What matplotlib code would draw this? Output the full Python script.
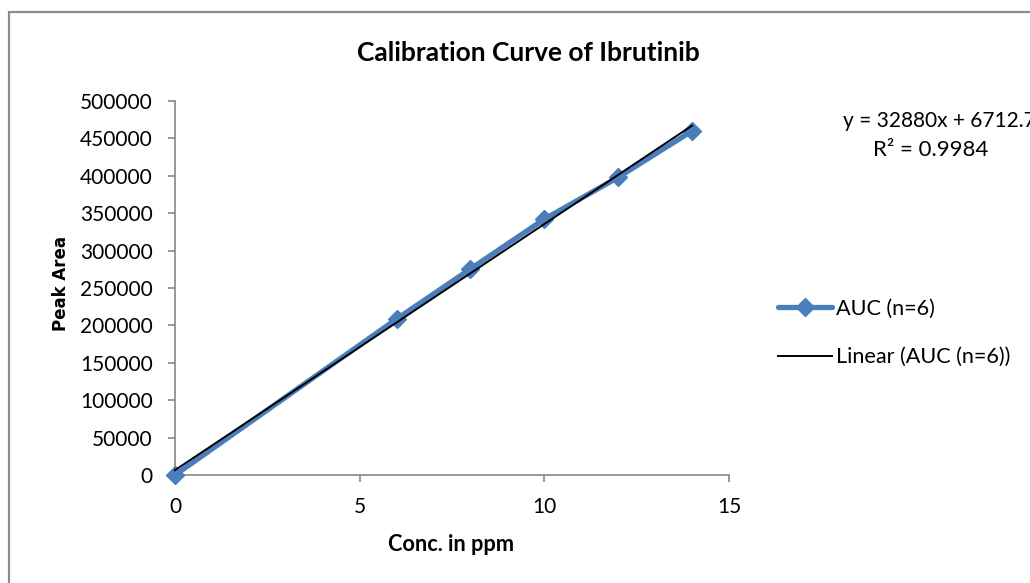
import numpy as np
import matplotlib
matplotlib.use("Agg")
import matplotlib.pyplot as plt
from matplotlib.patches import Rectangle

# Data
conc_ppm = [0, 6, 8, 10, 12, 14]
peak_area = [0, 208500, 275500, 342000, 398000, 460000]
x_ticks = [0, 5, 10, 15]
y_ticks = [0, 50000, 100000, 150000, 200000, 250000, 300000, 350000, 400000, 450000, 500000]
series_label = "AUC (n=6)"
trend_label = "Linear (AUC (n=6))"
equation_text = "y = 32880x + 6712.7"
r2_text = "R² = 0.9984"
title_text = "Calibration Curve of Ibrutinib"

W, H = 1030, 583
fig = plt.figure(figsize=(W / 100, H / 100), dpi=100)
fig.patch.set_facecolor("white")

FONT = ["Lato", "DejaVu Sans"]
FS = 15

ax = fig.add_axes([175 / W, 1 - 475 / H, (729 - 175) / W, (475 - 101) / H])

blue = "#4a7ebb"
line_main, = ax.plot(conc_ppm, peak_area, color=blue, lw=3.8, marker="D",
                     markersize=9, markerfacecolor=blue, markeredgecolor=blue,
                     solid_capstyle="round", clip_on=False, zorder=3,
                     label=series_label)

coef = np.polyfit(conc_ppm, peak_area, 1)
xt = np.array([min(conc_ppm), max(conc_ppm)])
line_trend, = ax.plot(xt, np.polyval(coef, xt), color="black", lw=1.4,
                      zorder=4, clip_on=False, label=trend_label)

ax.set_xlim(0, 15)
ax.set_ylim(0, 500000)
ax.set_xticks(x_ticks)
ax.set_yticks(y_ticks)
ax.set_xticklabels([str(v) for v in x_ticks], fontfamily=FONT, fontsize=FS)
ax.set_yticklabels([str(v) for v in y_ticks], fontfamily=FONT, fontsize=FS)

for s in ["top", "right"]:
    ax.spines[s].set_visible(False)
for s in ["left", "bottom"]:
    ax.spines[s].set_color("#868686")
    ax.spines[s].set_linewidth(1.2)
ax.tick_params(axis="both", direction="out", length=5, width=1.2,
               color="#868686", pad=11, labelcolor="black")

ax.set_xlabel("Conc. in ppm", fontfamily=FONT, fontsize=15.7, fontweight="bold",
              va="center")
ax.xaxis.set_label_coords(0.498, -0.187)
ax.set_ylabel("Peak Area", fontfamily="DejaVu Sans", fontsize=12,
              fontweight="bold", va="center")
ax.yaxis.set_label_coords(-0.206, 0.513)

fig.text(528 / W, 1 - 53 / H, title_text, fontfamily=FONT, fontsize=19,
         fontweight="bold", ha="center", va="center")

fig.text(843 / W, 1 - 121 / H, equation_text, fontfamily=FONT, fontsize=15,
         ha="left", va="center")
fig.text(931 / W, 1 - 150 / H, r2_text, fontfamily=FONT, fontsize=16,
         ha="center", va="center")

leg = fig.legend(handles=[line_main, line_trend], loc="center left",
                 bbox_to_anchor=(778 / W, 1 - 333 / H),
                 bbox_transform=fig.transFigure, frameon=False,
                 prop={"family": FONT, "size": 15.6}, handlelength=2.5,
                 handletextpad=0.2, labelspacing=1.3, borderpad=0,
                 borderaxespad=0)

fig.patches.append(Rectangle((9 / W, -0.2), 1.5, 1 - 12 / H + 0.2,
                             transform=fig.transFigure, fill=False,
                             edgecolor="#8c8c8c", lw=1.6, zorder=0))

fig.savefig("out.png", dpi=100)
